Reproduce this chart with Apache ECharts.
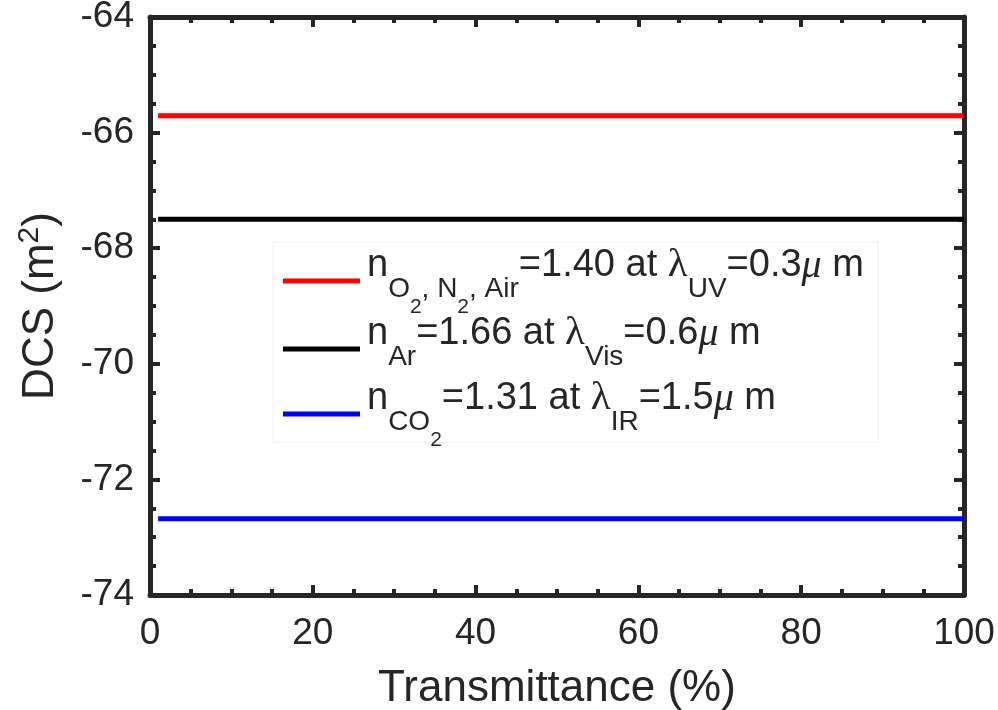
<!DOCTYPE html>
<html>
<head>
<meta charset="utf-8">
<script src="https://cdn.jsdelivr.net/npm/echarts@6/dist/echarts.min.js"></script>
<style>
  html, body { margin: 0; padding: 0; background: #fff; }
  #chart { width: 998px; height: 710px; }
</style>
</head>
<body>
<div id="chart"></div>
<script>
// transmittance (%) and DCS values (m^2)
var transmittance = [1, 100];
var dcsO2N2Air = [-65.71, -65.71];
var dcsAr = [-67.50, -67.50];
var dcsCO2 = [-72.68, -72.68];
var seriesNames = ['O2N2Air', 'Ar', 'CO2'];
var seriesColors = ['#ff0000', '#000000', '#0000ff'];
var legendTexts = {
  'O2N2Air': '{b|n}{s|O}{ss|2}{s|, N}{ss|2}{s|, Air}{b|=1.40 at }{l|λ}{s|UV}{b|=0.3}{m|μ}{b| m}',
  'Ar': '{b|n}{s|Ar}{b|=1.66 at }{l|λ}{s|Vis}{b|=0.6}{m|μ}{b| m}',
  'CO2': '{b|n}{s|CO}{ss|2}{b|=1.31 at }{l|λ}{s|IR}{b|=1.5}{m|μ}{b| m}'
};

var myChart = echarts.init(document.getElementById('chart'));

function pairs(ys) {
  var out = [];
  for (var i = 0; i < transmittance.length; i++) out.push([transmittance[i], ys[i]]);
  return out;
}

var axisColor = '#262626';
var txt = '#262626';
var font = 'Liberation Sans, Arial, sans-serif';
var serif = 'Liberation Serif, Times New Roman, serif';

function boxAxis(extra) {
  var a = {
    axisLine: { show: true, onZero: false, lineStyle: { color: axisColor, width: 5 } },
    axisTick: { show: true, inside: true, length: 10, lineStyle: { color: axisColor, width: 4 } },
    minorTick: { show: true, splitNumber: 4, length: 6, lineStyle: { color: axisColor, width: 4 } },
    splitLine: { show: false },
    minorSplitLine: { show: false }
  };
  for (var k in extra) a[k] = extra[k];
  return a;
}

// fragments are top-aligned and pushed down with padding, so subscripts
// sit below the main baseline
function frag(size, family, top, lh, bottom, italic) {
  return {
    fontSize: size, fontFamily: family, color: txt, fontStyle: italic ? 'italic' : 'normal',
    lineHeight: lh, verticalAlign: 'top', padding: [top, 0, bottom, 0]
  };
}

var option = {
  backgroundColor: '#ffffff',
  animation: false,
  grid: { left: 150, right: 34, top: 17, bottom: 115, outerBoundsMode: 'none', containLabel: false },
  legend: {
    orient: 'vertical',
    left: 273,
    top: 242,
    itemWidth: 77,
    itemHeight: 5,
    itemGap: -8,
    icon: 'rect',
    padding: [0, 14, -9, 10],
    backgroundColor: '#ffffff',
    borderColor: '#f0f0f0',
    borderWidth: 1,
    data: seriesNames,
    formatter: function (name) { return legendTexts[name]; },
    textStyle: {
      fontFamily: font,
      color: txt,
      padding: [0, 0, 34, 2],
      rich: {
        b: frag(38, font, 5, 42, 28),
        s: frag(28, font, 33, 30, 12),
        ss: frag(21, font, 55, 23, 0),
        l: frag(41, serif, 3, 44, 28),
        m: frag(40, serif, 4, 43, 28, true)
      }
    }
  },
  xAxis: [
    boxAxis({
      type: 'value', min: 0, max: 100, interval: 20, position: 'bottom',
      name: 'Transmittance (%)', nameLocation: 'middle', nameGap: 72,
      nameTextStyle: { fontSize: 44, fontFamily: font, color: txt },
      axisLabel: { fontSize: 37, fontFamily: font, color: txt, margin: 20 }
    }),
    boxAxis({
      type: 'value', min: 0, max: 100, interval: 20, position: 'top',
      axisLabel: { show: false }
    })
  ],
  yAxis: [
    boxAxis({
      type: 'value', min: -74, max: -64, interval: 2, position: 'left',
      name: '{t|DCS (m}{sup|2}{t|)}', nameLocation: 'middle', nameGap: 87, nameRotate: 90,
      nameTextStyle: {
        rich: {
          t: { fontSize: 44, fontFamily: font, color: txt, verticalAlign: 'bottom', lineHeight: 50 },
          sup: { fontSize: 30, fontFamily: font, color: txt, verticalAlign: 'bottom', lineHeight: 50, padding: [0, 0, 18, 0] }
        }
      },
      axisLabel: { fontSize: 37, fontFamily: font, color: txt, margin: 16 }
    }),
    boxAxis({
      type: 'value', min: -74, max: -64, interval: 2, position: 'right',
      axisLabel: { show: false }
    })
  ],
  series: [
    { name: seriesNames[0], type: 'line', data: pairs(dcsO2N2Air), showSymbol: false, lineStyle: { color: seriesColors[0], width: 5 }, itemStyle: { color: seriesColors[0] } },
    { name: seriesNames[1], type: 'line', data: pairs(dcsAr), showSymbol: false, lineStyle: { color: seriesColors[1], width: 5 }, itemStyle: { color: seriesColors[1] } },
    { name: seriesNames[2], type: 'line', data: pairs(dcsCO2), showSymbol: false, lineStyle: { color: seriesColors[2], width: 5 }, itemStyle: { color: seriesColors[2] } }
  ]
};

myChart.setOption(option);
</script>
</body>
</html>
